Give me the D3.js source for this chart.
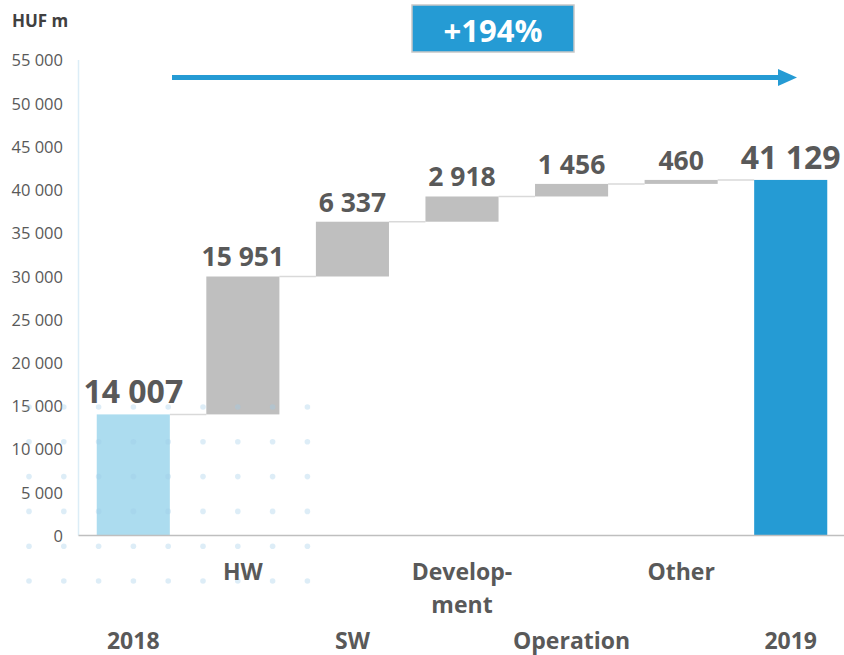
<!DOCTYPE html>
<html><head><meta charset="utf-8">
<script src="https://cdn.jsdelivr.net/npm/d3@7"></script>
<style>html,body{margin:0;padding:0;background:#fff;}svg{display:block;font-family:"Open Sans",sans-serif;}</style>
</head><body>
<svg id="chart" width="844" height="655"></svg>
<script>
// ---- data ----
const categories = ["2018", "HW", "SW", "Development", "Operation", "Other", "2019"];
const labelLines = [["2018"], ["HW"], ["SW"], ["Develop-", "ment"], ["Operation"], ["Other"], ["2019"]];
const labelRow   = [2, 0, 2, 0, 2, 0, 2];
const values     = [14007, 15951, 6337, 2918, 1456, 460, 41129];
const barKind    = ["start", "delta", "delta", "delta", "delta", "delta", "total"];
const valueLabels = ["14 007", "15 951", "6 337", "2 918", "1 456", "460", "41 129"];
const yTicks     = [0, 5000, 10000, 15000, 20000, 25000, 30000, 35000, 40000, 45000, 50000, 55000];
const growthLabel = "+194%";
const unitLabel  = "HUF m";

// ---- layout ----
const svg = d3.select("#chart");
const x = d3.scaleBand().domain(categories).range([78.5, 845.5]).paddingInner(0.333).paddingOuter(0.1665);
const y = d3.scaleLinear().domain([0, 55000]).range([535.5, 60]);
const fmt = v => d3.format(",")(v).replace(/,/g, " ");

// waterfall segments
let run = 0;
const segs = values.map((v, i) => {
  let lo, hi;
  if (barKind[i] === "delta") { lo = run; hi = run + v; run = hi; }
  else { lo = 0; hi = v; run = v; }
  return { cat: categories[i], lo, hi, kind: barKind[i], label: valueLabels[i], i };
});
const colors = { start: "#acdcef", delta: "#bfbfbf", total: "#259bd4" };

// y axis line
svg.append("line").attr("x1", 78.5).attr("x2", 78.5).attr("y1", y(55000)).attr("y2", y(0))
  .attr("stroke", "#dcedf7").attr("stroke-width", 1.5);

// y tick labels
const yAxis = d3.axisLeft(y).tickValues(yTicks).tickSize(0).tickPadding(0).tickFormat(fmt);
const gy = svg.append("g").attr("transform", "translate(63,0)").call(yAxis);
gy.select(".domain").remove();
gy.selectAll("text").attr("font-size", 16.5).attr("fill", "#595959").attr("font-family", "'Open Sans',sans-serif").attr("dy", "0.36em");

// connectors
for (let i = 0; i < segs.length - 1; i++) {
  const lvl = segs[i].hi;
  svg.append("line")
    .attr("x1", x(segs[i].cat) + x.bandwidth()).attr("x2", x(segs[i + 1].cat))
    .attr("y1", y(lvl)).attr("y2", y(lvl))
    .attr("stroke", "#d9d9d9").attr("stroke-width", 1.5);
}

// bars
svg.append("g").selectAll("rect").data(segs).join("rect")
  .attr("x", d => x(d.cat)).attr("width", x.bandwidth())
  .attr("y", d => y(d.hi)).attr("height", d => Math.max(1, y(d.lo) - y(d.hi)))
  .attr("fill", d => colors[d.kind]);

// baseline
svg.append("line").attr("x1", 78.5).attr("x2", 845).attr("y1", y(0)).attr("y2", y(0))
  .attr("stroke", "#bfbfbf").attr("stroke-width", 1.5);

// decorative dot pattern
const dotCols = d3.range(9), dotRows = d3.range(6);
const dots = svg.append("g");
dotRows.forEach(r => dotCols.forEach(c => {
  dots.append("circle").attr("cx", 29 + c * 34.8).attr("cy", 407 + r * 34.8).attr("r", 2.8)
    .attr("fill", "#9fcbe9").attr("opacity", 0.35);
}));

// value labels
svg.append("g").selectAll("text").data(segs).join("text")
  .attr("x", d => x(d.cat) + x.bandwidth() / 2)
  .attr("y", d => y(d.hi) - (d.kind === "delta" ? 10 : 11))
  .attr("text-anchor", "middle").attr("font-weight", 700)
  .attr("font-size", d => d.kind === "delta" ? 26.5 : 32)
  .attr("fill", "#595959").text(d => d.label);

// category labels (staggered)
const rowY = [580, 613, 649];
categories.forEach((c, i) => {
  const t = svg.append("text").attr("x", x(c) + x.bandwidth() / 2).attr("text-anchor", "middle")
    .attr("font-weight", 700).attr("font-size", 23).attr("fill", "#595959");
  labelLines[i].forEach((ln, k) => {
    t.append("tspan").attr("x", x(c) + x.bandwidth() / 2).attr("y", rowY[labelRow[i] + k]).text(ln);
  });
});

// unit label
svg.append("text").attr("x", 12).attr("y", 27).attr("font-size", 17).attr("font-weight", 700)
  .attr("fill", "#404040").text(unitLabel);

// growth box
svg.append("rect").attr("x", 412).attr("y", 5).attr("width", 162).attr("height", 47)
  .attr("fill", "#259bd4").attr("stroke", "#c8c8c8").attr("stroke-width", 1.5);
svg.append("text").attr("x", 493).attr("y", 42).attr("text-anchor", "middle")
  .attr("font-size", 31).attr("font-weight", 700).attr("fill", "#fff").text(growthLabel);

// arrow
svg.append("line").attr("x1", 172).attr("x2", 780).attr("y1", 77.5).attr("y2", 77.5)
  .attr("stroke", "#259bd4").attr("stroke-width", 5);
svg.append("path").attr("d", "M778,69 L797,77.5 L778,86 Z").attr("fill", "#259bd4");
</script>
</body></html>
